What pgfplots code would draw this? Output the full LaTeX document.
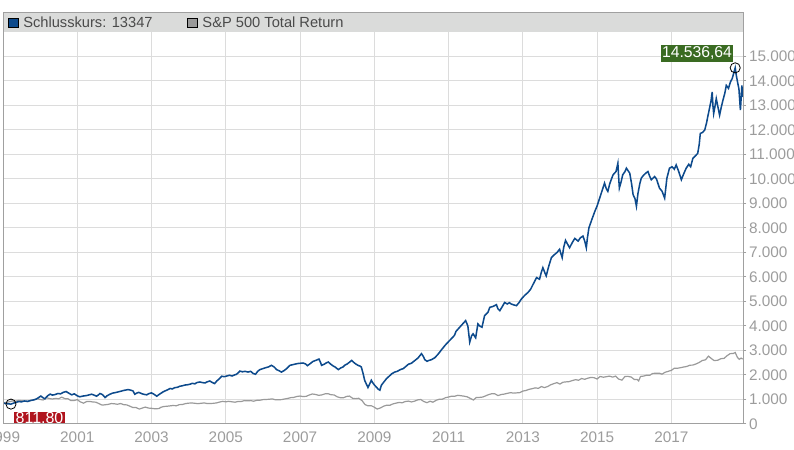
\documentclass[border=0pt]{standalone}
\usepackage{fontspec}
\setmainfont{Liberation Sans}
\usepackage{pgfplots}
\pgfplotsset{compat=1.18}
\definecolor{blueline}{HTML}{0D4A8C}
\definecolor{grayline}{HTML}{9A9A9A}
\definecolor{headergray}{HTML}{DADBDA}
\definecolor{framegray}{HTML}{A0A0A0}
\definecolor{gridgray}{HTML}{DCDCDC}
\definecolor{tickgray}{HTML}{9C9C9C}
\definecolor{legendtext}{HTML}{4A4A4A}
\definecolor{redbox}{HTML}{B0141E}
\definecolor{greenbox}{HTML}{3A6B22}

\begin{document}
\begin{tikzpicture}
  % page = 794 x 450 px, 1 px = 0.75pt
  \path[use as bounding box] (-2.25pt,-19.5pt) rectangle (593.25pt,318pt);
  % header band (legend row)
  \fill[headergray] (0,294pt) rectangle (555pt,308.25pt);

  \begin{axis}[
    scale only axis,
    width=555pt, height=294pt,
    xmin=1999, xmax=2018.93,
    ymin=0, ymax=16000,
    scaled y ticks=false,
    axis line style={draw=none},
    xtick={1999,2001,...,2017},
    ytick={0,1000,...,15000},
    xmajorgrids, ymajorgrids,
    grid style={gridgray, line width=0.75pt},
    xtick pos=bottom, ytick pos=right,
    yticklabel pos=right,
    tick align=outside,
    major tick length=2.5pt,
    x tick style={draw=none},
    y tick style={framegray, line width=0.75pt},
    tick label style={font=\fontsize{11.5}{13}\selectfont, text=tickgray},
    x tick label style={/pgf/number format/1000 sep={}, /pgf/number format/assume math mode=true},
    y tick label style={/pgf/number format/1000 sep={.}, /pgf/number format/assume math mode=true, xshift=-1.5pt},
    legend style={at={(axis description cs:0,1)}, anchor=west, xshift=3.6pt, yshift=6.9pt,
      draw=none, fill=none, inner sep=0pt,
      font=\fontsize{11}{13}\selectfont, text=legendtext,
      legend columns=2,
      /tikz/every odd column/.append style={column sep=1.6pt},
      /tikz/every even column/.append style={column sep=24pt}},
    legend cell align=left,
    reverse legend,
    legend image code/.code={\draw[#1, draw=black, line width=0.6pt, fill] (0pt,-3.6pt) rectangle (7.2pt,3.6pt);},
  ]
    \addplot[color=grayline, line width=0.9pt] coordinates {
      (1999.00,864)(1999.08,880)(1999.17,905)(1999.25,940)(1999.33,925)(1999.42,965)
      (1999.50,950)(1999.58,935)(1999.67,910)(1999.75,965)(1999.83,985)(1999.92,1040)
      (2000.00,1000)(2000.08,980)(2000.17,1070)(2000.25,1040)(2000.33,1020)(2000.42,1045)
      (2000.50,1030)(2000.58,1095)(2000.67,1035)(2000.75,1030)(2000.83,955)(2000.92,960)
      (2001.00,995)(2001.08,905)(2001.17,850)(2001.25,915)(2001.33,920)(2001.42,900)
      (2001.50,890)(2001.58,835)(2001.67,770)(2001.75,785)(2001.83,800)(2001.92,835)
      (2002.00,825)(2002.08,805)(2002.17,835)(2002.25,790)(2002.33,780)(2002.42,725)
      (2002.50,670)(2002.58,675)(2002.67,610)(2002.75,650)(2002.83,690)(2002.92,650)
      (2003.00,640)(2003.10,620)(2003.20,630)(2003.25,680)(2003.33,715)(2003.42,725)
      (2003.50,740)(2003.58,755)(2003.67,745)(2003.75,790)(2003.83,795)(2003.92,835)
      (2004.00,850)(2004.08,860)(2004.17,845)(2004.25,830)(2004.33,845)(2004.42,860)
      (2004.50,835)(2004.58,835)(2004.67,845)(2004.75,860)(2004.83,895)(2004.92,925)
      (2005.00,905)(2005.08,925)(2005.17,905)(2005.25,890)(2005.33,920)(2005.42,920)
      (2005.50,955)(2005.58,945)(2005.67,955)(2005.75,930)(2005.83,965)(2005.92,970)
      (2006.00,995)(2006.08,1000)(2006.17,1010)(2006.25,1025)(2006.33,990)(2006.42,990)
      (2006.50,995)(2006.58,1020)(2006.67,1045)(2006.75,1075)(2006.83,1085)(2006.92,1125)
      (2007.00,1140)(2007.08,1120)(2007.17,1130)(2007.25,1185)(2007.33,1225)(2007.42,1205)
      (2007.50,1170)(2007.58,1185)(2007.67,1230)(2007.75,1240)(2007.83,1195)(2007.92,1185)
      (2008.00,1110)(2008.08,1075)(2008.17,1070)(2008.25,1125)(2008.33,1140)(2008.42,1045)
      (2008.50,1035)(2008.58,1050)(2008.67,955)(2008.75,795)(2008.83,740)(2008.92,745)
      (2009.00,685)(2009.08,610)(2009.17,660)(2009.25,725)(2009.33,765)(2009.42,765)
      (2009.50,820)(2009.58,850)(2009.67,880)(2009.75,865)(2009.83,915)(2009.92,935)
      (2010.00,900)(2010.08,930)(2010.17,985)(2010.25,1000)(2010.33,920)(2010.42,870)
      (2010.50,930)(2010.58,890)(2010.67,970)(2010.75,1010)(2010.83,1010)(2010.92,1075)
      (2011.00,1100)(2011.08,1135)(2011.17,1135)(2011.25,1170)(2011.33,1155)(2011.42,1135)
      (2011.50,1110)(2011.58,1050)(2011.67,980)(2011.75,1085)(2011.83,1085)(2011.92,1100)
      (2012.00,1150)(2012.08,1200)(2012.17,1240)(2012.25,1230)(2012.33,1160)(2012.42,1205)
      (2012.50,1220)(2012.58,1250)(2012.67,1280)(2012.75,1260)(2012.83,1270)(2012.92,1280)
      (2013.00,1345)(2013.08,1365)(2013.17,1415)(2013.25,1440)(2013.33,1475)(2013.42,1455)
      (2013.50,1530)(2013.58,1485)(2013.67,1530)(2013.75,1600)(2013.83,1645)(2013.92,1690)
      (2014.00,1630)(2014.08,1705)(2014.17,1720)(2014.25,1730)(2014.33,1770)(2014.42,1810)
      (2014.50,1785)(2014.58,1855)(2014.67,1825)(2014.75,1870)(2014.83,1900)(2014.92,1890)
      (2015.00,1835)(2015.08,1940)(2015.17,1910)(2015.25,1930)(2015.33,1955)(2015.42,1915)
      (2015.50,1955)(2015.58,1835)(2015.67,1790)(2015.75,1940)(2015.83,1945)(2015.92,1915)
      (2016.00,1820)(2016.08,1820)(2016.12,1760)(2016.17,1940)(2016.25,1955)(2016.33,1990)
      (2016.42,1990)(2016.50,2065)(2016.58,2070)(2016.67,2075)(2016.75,2035)(2016.83,2110)
      (2016.92,2150)(2017.00,2190)(2017.08,2275)(2017.17,2275)(2017.25,2300)(2017.33,2325)
      (2017.42,2350)(2017.50,2400)(2017.58,2405)(2017.67,2455)(2017.75,2510)(2017.83,2590)
      (2017.92,2620)(2018.00,2770)(2018.08,2670)(2018.15,2590)(2018.25,2600)(2018.33,2665)
      (2018.42,2680)(2018.50,2785)(2018.58,2870)(2018.67,2880)(2018.72,2920)(2018.78,2720)
      (2018.83,2640)(2018.88,2690)(2018.92,2650)
    };
    \addplot[color=blueline, line width=1.15pt] coordinates {
      (1999.00,864)(1999.05,840)(1999.12,825)(1999.215,812)(1999.28,850)(1999.35,880)
      (1999.42,915)(1999.50,905)(1999.58,940)(1999.66,925)(1999.75,960)(1999.83,985)
      (1999.90,1020)(1999.96,1080)(2000.02,1140)(2000.08,1070)(2000.13,1030)(2000.20,1150)
      (2000.27,1220)(2000.33,1180)(2000.40,1200)(2000.48,1245)(2000.55,1230)(2000.62,1290)
      (2000.70,1325)(2000.76,1270)(2000.85,1190)(2000.92,1230)(2001.00,1150)(2001.07,1110)
      (2001.15,1140)(2001.25,1160)(2001.32,1190)(2001.39,1215)(2001.46,1175)(2001.52,1135)
      (2001.58,1200)(2001.61,1245)(2001.68,1200)(2001.72,1130)(2001.75,1080)(2001.80,1150)
      (2001.88,1215)(2001.95,1260)(2002.02,1280)(2002.10,1310)(2002.18,1340)(2002.25,1370)
      (2002.32,1390)(2002.37,1405)(2002.44,1380)(2002.50,1350)(2002.55,1215)(2002.60,1260)
      (2002.65,1290)(2002.69,1270)(2002.75,1230)(2002.80,1210)(2002.87,1190)(2002.93,1240)
      (2003.00,1270)(2003.06,1220)(2003.10,1180)(2003.14,1135)(2003.20,1200)(2003.26,1260)
      (2003.31,1310)(2003.38,1360)(2003.44,1400)(2003.50,1450)(2003.56,1430)(2003.62,1480)
      (2003.70,1500)(2003.76,1540)(2003.83,1560)(2003.90,1590)(2003.96,1600)(2004.03,1620)
      (2004.10,1660)(2004.17,1640)(2004.22,1690)(2004.30,1715)(2004.37,1690)(2004.44,1675)
      (2004.50,1720)(2004.57,1755)(2004.63,1700)(2004.70,1650)(2004.76,1760)(2004.83,1850)
      (2004.89,1950)(2004.96,1930)(2005.03,1960)(2005.10,1990)(2005.17,1960)(2005.23,2000)
      (2005.29,2030)(2005.34,2100)(2005.38,2160)(2005.45,2130)(2005.52,2150)(2005.60,2120)
      (2005.67,2150)(2005.74,2060)(2005.80,2030)(2005.86,2150)(2005.92,2220)(2006.00,2260)
      (2006.08,2300)(2006.15,2330)(2006.23,2395)(2006.30,2330)(2006.37,2220)(2006.44,2170)
      (2006.50,2120)(2006.57,2180)(2006.64,2260)(2006.73,2395)(2006.80,2420)(2006.88,2450)
      (2006.95,2470)(2007.02,2480)(2007.08,2490)(2007.15,2450)(2007.20,2380)(2007.27,2460)
      (2007.35,2555)(2007.43,2600)(2007.51,2650)(2007.55,2520)(2007.58,2395)(2007.65,2440)
      (2007.70,2490)(2007.76,2530)(2007.82,2450)(2007.88,2380)(2007.95,2320)(2008.03,2220)
      (2008.10,2290)(2008.16,2330)(2008.20,2395)(2008.27,2450)(2008.33,2520)(2008.39,2595)
      (2008.45,2510)(2008.50,2450)(2008.56,2395)(2008.62,2360)(2008.65,2325)(2008.70,2050)
      (2008.74,1785)(2008.78,1650)(2008.83,1490)(2008.88,1650)(2008.92,1785)(2008.96,1680)
      (2009.01,1580)(2009.06,1500)(2009.10,1430)(2009.15,1380)(2009.19,1580)(2009.25,1700)
      (2009.33,1855)(2009.40,1950)(2009.47,2050)(2009.55,2120)(2009.62,2150)(2009.70,2220)
      (2009.78,2260)(2009.85,2350)(2009.92,2440)(2010.00,2480)(2010.04,2530)(2010.10,2600)
      (2010.18,2700)(2010.27,2870)(2010.32,2760)(2010.36,2625)(2010.42,2560)(2010.48,2600)
      (2010.54,2625)(2010.60,2680)(2010.63,2705)(2010.70,2820)(2010.76,2930)(2010.81,3030)
      (2010.90,3200)(2010.96,3300)(2011.03,3410)(2011.10,3520)(2011.16,3620)(2011.20,3780)
      (2011.30,3950)(2011.38,4085)(2011.46,4220)(2011.52,4000)(2011.57,3340)(2011.62,3600)
      (2011.66,3680)(2011.73,3520)(2011.79,4085)(2011.84,4000)(2011.90,3950)(2011.97,4420)
      (2012.06,4555)(2012.11,4760)(2012.20,4800)(2012.29,4870)(2012.33,4700)(2012.38,4625)
      (2012.45,4800)(2012.51,4960)(2012.58,4900)(2012.64,4950)(2012.69,4895)(2012.76,4860)
      (2012.83,4830)(2012.90,4960)(2012.96,5100)(2013.05,5250)(2013.14,5370)(2013.21,5500)
      (2013.28,5710)(2013.37,5975)(2013.45,5910)(2013.50,6200)(2013.54,6380)(2013.60,6150)
      (2013.63,6045)(2013.70,6450)(2013.77,6790)(2013.86,6925)(2013.92,7000)(2013.99,7130)
      (2014.06,6790)(2014.10,7200)(2014.15,7495)(2014.22,7300)(2014.26,7195)(2014.33,7400)
      (2014.40,7575)(2014.49,7465)(2014.55,7600)(2014.62,7670)(2014.67,7450)(2014.71,7195)
      (2014.74,7600)(2014.78,8005)(2014.86,8350)(2014.94,8680)(2015.00,8900)(2015.07,9220)
      (2015.13,9500)(2015.20,9830)(2015.25,9600)(2015.29,9495)(2015.34,9800)(2015.38,9970)
      (2015.43,10170)(2015.51,10305)(2015.56,10640)(2015.58,10100)(2015.60,9630)(2015.65,9900)
      (2015.69,10170)(2015.75,10300)(2015.79,10440)(2015.88,10235)(2015.93,9800)(2015.97,9360)
      (2016.02,9200)(2016.06,8885)(2016.10,9400)(2016.15,9800)(2016.19,10035)(2016.25,10150)
      (2016.32,10250)(2016.37,10305)(2016.42,10100)(2016.46,9970)(2016.55,10100)(2016.60,10000)
      (2016.68,9630)(2016.75,9500)(2016.82,9220)(2016.88,10035)(2016.95,10440)(2017.02,10500)
      (2017.08,10400)(2017.13,10575)(2017.20,10300)(2017.27,9970)(2017.33,10200)(2017.40,10440)
      (2017.47,10600)(2017.52,10500)(2017.58,10845)(2017.65,10950)(2017.71,11045)(2017.75,11400)
      (2017.78,11860)(2017.84,11900)(2017.90,12000)(2017.95,12300)(2017.98,12535)(2018.03,12900)
      (2018.07,13200)(2018.10,13550)(2018.12,13000)(2018.14,12670)(2018.18,13000)(2018.21,13280)
      (2018.26,12900)(2018.30,12605)(2018.34,12900)(2018.39,13215)(2018.44,13500)(2018.48,13820)
      (2018.54,13700)(2018.59,13955)(2018.64,14100)(2018.70,14430)(2018.72,14537)(2018.75,14230)
      (2018.79,13900)(2018.82,13685)(2018.86,12810)(2018.88,13300)(2018.90,13820)(2018.92,13347)
    };
    \legend{S\&P 500 Total Return, Schlusskurs: 13347}

    \addplot[forget plot, only marks, mark=o, mark size=3.8pt,
      mark options={black, line width=0.6pt}] coordinates {(1999.215,812)(2018.72,14537)};
    \node[fill=redbox, text=white, anchor=north west, inner sep=0pt,
      minimum width=38pt, minimum height=11.2pt,
      font=\fontsize{12}{12}\selectfont, xshift=2.2pt, yshift=-5.6pt]
      at (axis cs:1999.215,812) {811,80};
    \node[fill=greenbox, text=white, anchor=south east, inner sep=0pt,
      minimum width=53.5pt, minimum height=12.8pt,
      font=\fontsize{11.8}{12}\selectfont, xshift=-1.7pt, yshift=4.5pt]
      at (axis cs:2018.72,14537) {14.536,64};
  \end{axis}
  % frame without the line between header and plot
  \draw[framegray, line width=0.75pt] (0,294pt) -- (0,0) -- (555pt,0) -- (555pt,308.25pt) -- (0,308.25pt) -- (0,294pt);
\end{tikzpicture}
\end{document}
